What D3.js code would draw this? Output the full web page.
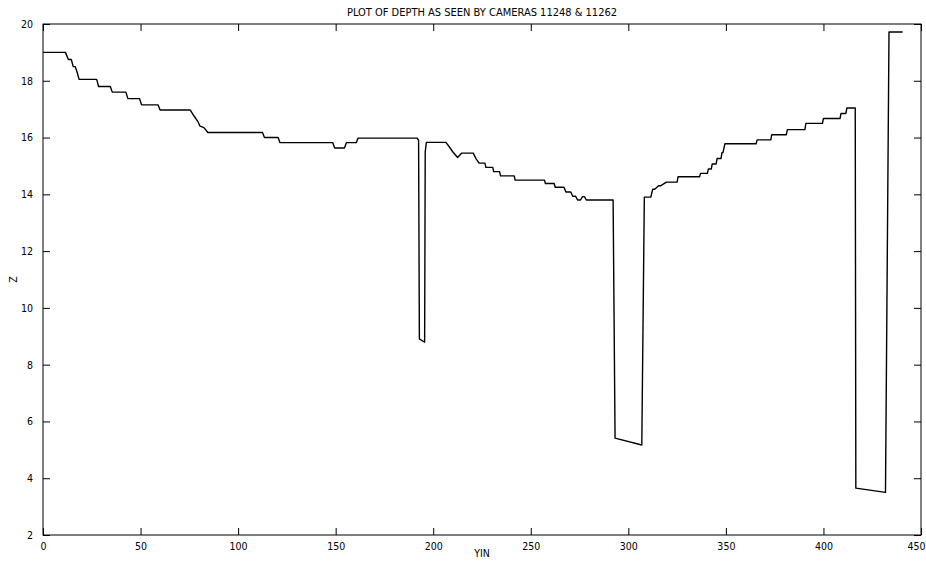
<!DOCTYPE html>
<html><head><meta charset="utf-8">
<script src="https://cdn.jsdelivr.net/npm/d3@7"></script>
<style>body{margin:0;background:#fff}svg{display:block}</style>
</head><body>
<svg id="c" width="926" height="563"></svg>
<script>
const title = "PLOT OF DEPTH AS SEEN BY CAMERAS 11248 & 11262";
const xLabel = "YIN";
const yLabel = "Z";
const xTicks = [0,50,100,150,200,250,300,350,400,450];
const yTicks = [2,4,6,8,10,12,14,16,18,20];
const yinValues = [0,11.5,13,14.5,15.5,16.5,17.5,18.5,27.5,28.5,34.5,35.5,42.5,43.5,49.5,50.5,59,60,75.5,77.5,79.5,80.5,82.5,84.5,112.5,113.5,120.5,121.5,148.5,149.5,154.5,155.5,160.5,161.5,191.8,192.5,192.9,195.6,195.9,196.5,206.5,208.5,210,212.5,214.5,220.5,222,223.5,226.5,227,230.5,231,234,234.5,241.5,242,257,257.5,262,262.5,267,268,270.5,271.5,273,274,275.5,276.5,277.5,278.5,292.2,293.2,306.9,308.2,311.5,312.5,313.5,315.5,316.5,319.5,320.5,325,325.5,336.5,337,340.5,341,342.5,343,345,345.5,347.5,348,348.5,349.5,365.5,366,373,373.5,381,381.5,390.5,391,399.5,400,408.5,409,411.5,412,416.3,416.6,431.8,433.6,440.6];
const zValues = [19.0,19.0,18.75,18.75,18.5,18.5,18.3,18.05,18.05,17.8,17.8,17.6,17.6,17.37,17.37,17.15,17.15,16.97,16.97,16.75,16.55,16.4,16.35,16.18,16.18,16.0,16.0,15.82,15.82,15.63,15.63,15.82,15.82,15.98,15.98,15.9,8.91,8.79,15.5,15.83,15.83,15.65,15.5,15.3,15.45,15.45,15.25,15.1,15.1,14.95,14.95,14.8,14.8,14.65,14.65,14.5,14.5,14.38,14.38,14.25,14.25,14.08,14.08,13.93,13.93,13.8,13.8,13.92,13.92,13.8,13.8,5.41,5.17,13.9,13.9,14.18,14.18,14.3,14.3,14.43,14.43,14.43,14.62,14.62,14.74,14.74,14.89,14.89,15.07,15.07,15.26,15.26,15.47,15.47,15.78,15.78,15.92,15.92,16.1,16.1,16.28,16.28,16.5,16.5,16.67,16.67,16.85,16.85,17.04,17.04,3.65,3.5,19.72,19.72];

const svg = d3.select("#c");
const L = 43, R = 921, T = 24, B = 535;
const x = d3.scaleLinear().domain([0,450]).range([L,R]);
const y = d3.scaleLinear().domain([2,20]).range([B,T]);
const font = "'DejaVu Sans Condensed','Liberation Sans Narrow','Arial Narrow',Arial,sans-serif";

svg.append("rect").attr("x",L).attr("y",T).attr("width",R-L).attr("height",B-T)
  .attr("fill","none").attr("stroke","#000").attr("stroke-width",1);

const tl = 7;
const gx = svg.append("g").attr("transform",`translate(0,${B})`)
  .call(d3.axisBottom(x).tickValues(xTicks).tickSize(-tl).tickPadding(tl+1).tickFormat(d3.format("d")));
const gxt = svg.append("g").attr("transform",`translate(0,${T})`)
  .call(d3.axisTop(x).tickValues(xTicks).tickSize(-tl).tickFormat(""));
const gy = svg.append("g").attr("transform",`translate(${L},0)`)
  .call(d3.axisLeft(y).tickValues(yTicks).tickSize(-tl).tickPadding(tl+3).tickFormat(d3.format("d")));
const gyr = svg.append("g").attr("transform",`translate(${R},0)`)
  .call(d3.axisRight(y).tickValues(yTicks).tickSize(-tl).tickFormat(""));
[gx,gxt,gy,gyr].forEach(g=>{
  g.select(".domain").remove();
  g.selectAll("line").attr("stroke","#000");
  g.selectAll("text").attr("font-family",font).attr("font-size",10.5).attr("fill","#000");
});
gx.selectAll("text").filter(d=>d===450).attr("text-anchor","end").attr("dx",4);

const pts = yinValues.map((v,i)=>[v,zValues[i]]);
svg.append("path").datum(pts)
  .attr("d", d3.line().x(d=>x(d[0])).y(d=>y(d[1])))
  .attr("fill","none").attr("stroke","#000").attr("stroke-width",1.4).attr("stroke-linejoin","round");

svg.append("text").attr("x",(L+R)/2).attr("y",16).attr("text-anchor","middle")
  .attr("font-family",font).attr("font-size",11).text(title);
svg.append("text").attr("x",(L+R)/2).attr("y",557).attr("text-anchor","middle")
  .attr("font-family",font).attr("font-size",10.5).text(xLabel);
svg.append("text").attr("transform",`translate(17,${(T+B)/2}) rotate(-90)`).attr("text-anchor","middle")
  .attr("font-family",font).attr("font-size",10.5).text(yLabel);
</script>
</body></html>
